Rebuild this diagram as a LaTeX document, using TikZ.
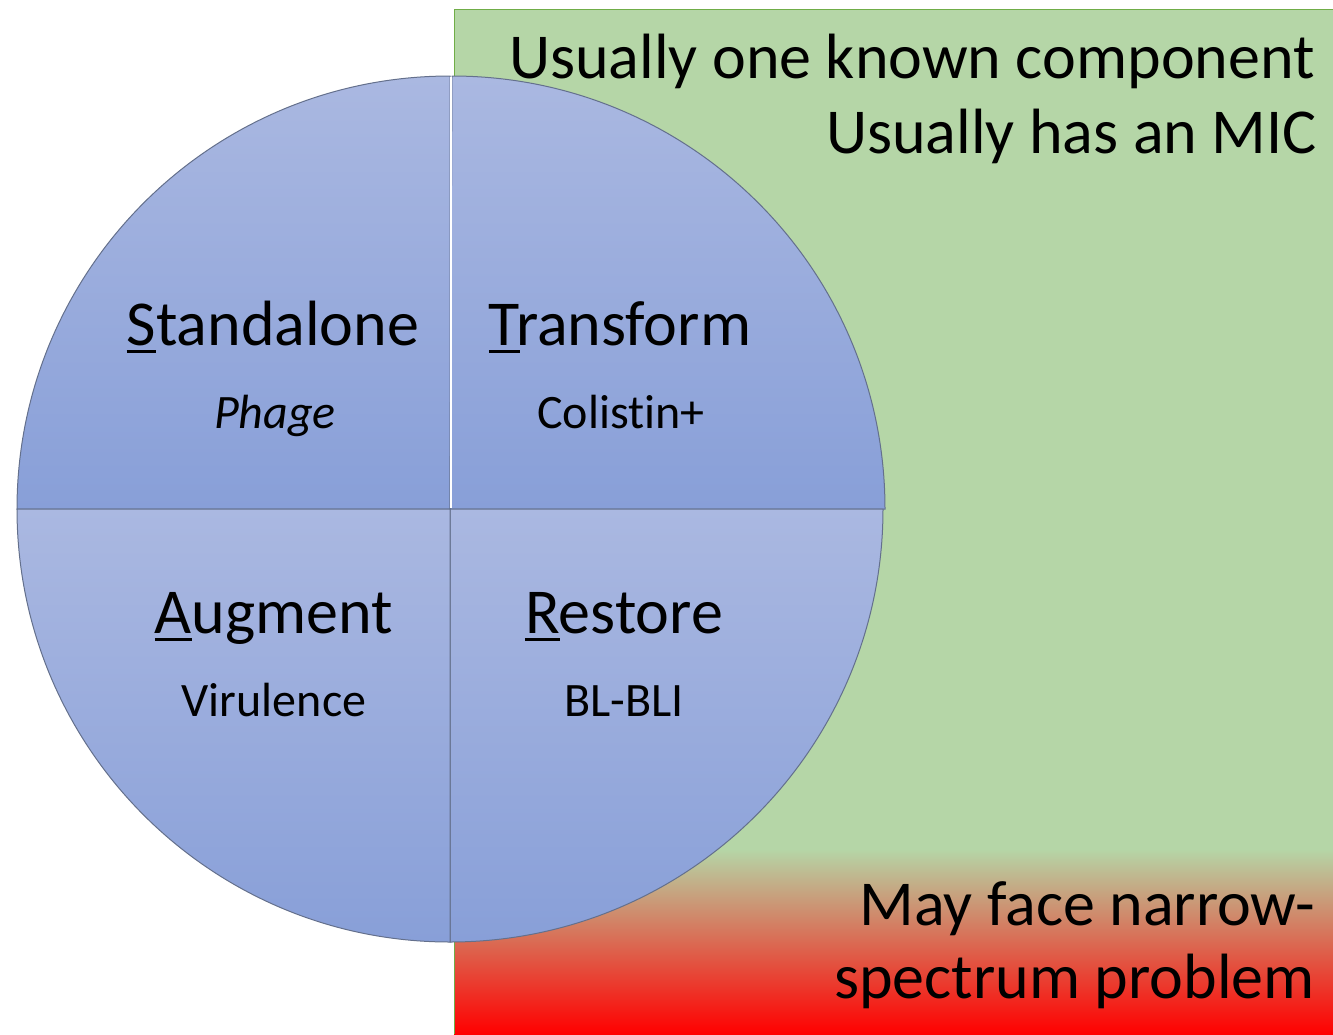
\documentclass[tikz,border=0pt]{standalone}
\usepackage{fontspec}
\setmainfont[Ligatures=NoCommon]{Carlito}
\definecolor{qlight}{RGB}{170,184,225}
\definecolor{qdark}{RGB}{136,159,216}
\definecolor{gfill}{RGB}{181,214,167}
\definecolor{gedge}{RGB}{112,173,71}
\definecolor{qedge}{RGB}{100,112,140}
\newcommand\ulfirst[1]{\setbox0\hbox{#1}\rlap{\rule[-0.12em]{\wd0}{0.045em}}#1}
\tikzset{
  quad/.style={draw=qedge, line width=1pt, top color=qlight, bottom color=qdark},
  bigtxt/.style={inner sep=0pt, font=\fontsize{64}{70}\selectfont},
  subtxt/.style={inner sep=0pt, font=\fontsize{48}{54}\selectfont},
  sidetxt/.style={inner sep=0pt, anchor=base east, font=\fontsize{64}{70}\selectfont}
}
\begin{document}
\begin{tikzpicture}[x=1pt,y=-1pt]
\useasboundingbox (0,0) rectangle (1333,1034);
% green panel
\fill[gfill] (454,9) rectangle (1333,850);
\shade[top color=gfill, bottom color=red] (454,849) rectangle (1333,1034);
\draw[gedge, line width=1pt] (454,1034) -- (454,9) -- (1333,9);
% circle quadrants
\coordinate (c) at (450,509);
\path[quad] (17,509) arc (180:270:433) -- (c) -- cycle;
\path[quad] (452,76) arc (270:360:433) -- (c) -- cycle;
\path[quad] (883,509) arc (0:90:433) -- (c) -- cycle;
\path[quad] (450,942) arc (90:180:433) -- (c) -- cycle;
\draw[white, line width=2pt] (451,77) -- (451,508);
% quadrant labels
\node[bigtxt, anchor=base] (s) at (273,345) {\ulfirst{S}tandalone};
\node[subtxt, anchor=base] (sp) at (275,428) {\itshape Phage};
\node[bigtxt, anchor=base] (t) at (620,345) {\ulfirst{T}ransform};
\node[subtxt, anchor=base] (tp) at (621,428) {Colistin+};
\node[bigtxt, anchor=base] (a) at (274,633) {\ulfirst{A}ugment};
\node[subtxt, anchor=base] (ap) at (274,716) {Virulence};
\node[bigtxt, anchor=base] (r) at (624,633) {\ulfirst{R}estore};
\node[subtxt, anchor=base] (rp) at (624,716) {BL-BLI};
% side texts
\node[sidetxt] (u1) at (1315,78) {Usually one known component};
\node[sidetxt] (u2) at (1317,153) {Usually has an MIC};
\node[sidetxt] (m1) at (1315,925) {May face narrow-};
\node[sidetxt] (m2) at (1315,998) {spectrum problem};
\end{tikzpicture}
\end{document}
